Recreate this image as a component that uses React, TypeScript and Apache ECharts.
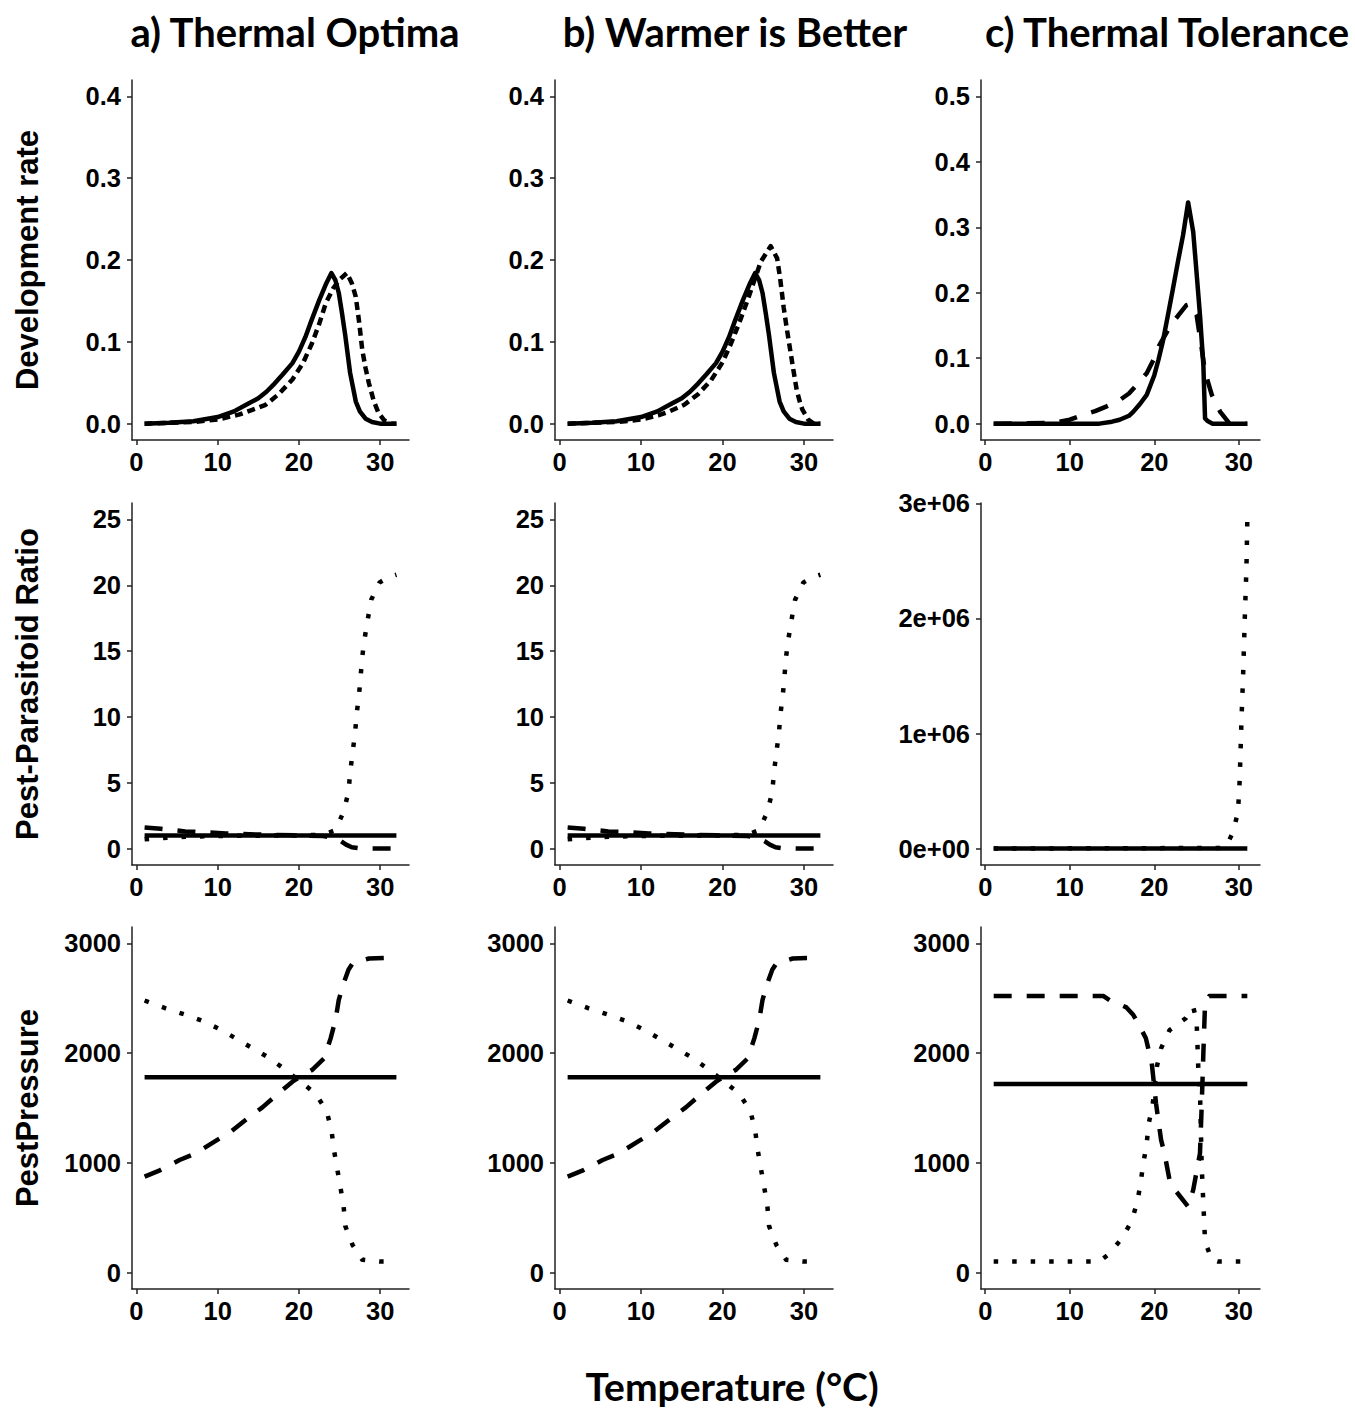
import React, { useEffect, useRef } from "react";
import * as echarts from "echarts";

// ---------- tick labels ----------
const xTicks = [0, 10, 20, 30];
const devTicksAB = [0, 0.1, 0.2, 0.3, 0.4];
const devTicksC = [0, 0.1, 0.2, 0.3, 0.4, 0.5];
const ratioTicksAB = [0, 5, 10, 15, 20, 25];
const ratioTicksC = [0, 1e6, 2e6, 3e6];
const ratioLabelsC = ["0e+00", "1e+06", "2e+06", "3e+06"];
const pressureTicks = [0, 1000, 2000, 3000];

const columnTitles = ["a) Thermal Optima", "b) Warmer is Better", "c) Thermal Tolerance"];
const rowTitles = ["Development rate", "Pest-Parasitoid Ratio", "PestPressure"];
const xTitle = "Temperature (°C)";

// ---------- Row 1: development rate ----------
const devA_solid_t = [1, 4, 7, 10, 12, 13.5, 15, 16, 17, 18, 19.2, 20, 20.8, 21.5, 22.5, 23.3, 24, 24.5, 24.9, 25.3, 25.7, 26.3, 27, 27.5, 28.2, 29, 30, 32];
const devA_solid_v = [0, 0.001, 0.003, 0.008, 0.015, 0.023, 0.031, 0.039, 0.049, 0.06, 0.074, 0.088, 0.106, 0.125, 0.151, 0.17, 0.184, 0.175, 0.16, 0.135, 0.108, 0.062, 0.027, 0.015, 0.006, 0.002, 0, 0];
const devA_dash_t = [1, 4, 7, 10, 12.6, 14, 15.9, 17.5, 19.2, 20.5, 21.6, 22.5, 23.3, 24.2, 25, 25.9, 26.5, 27, 27.4, 27.8, 28.2, 28.6, 29.2, 29.8, 30.5, 31.4, 32];
const devA_dash_v = [0, 0.001, 0.002, 0.005, 0.011, 0.016, 0.023, 0.036, 0.054, 0.074, 0.098, 0.122, 0.147, 0.165, 0.176, 0.184, 0.172, 0.155, 0.125, 0.09, 0.068, 0.05, 0.028, 0.013, 0.004, 0, 0];
const devB_dash_t = [1, 4, 7, 10, 12.1, 13.5, 15.3, 17, 18.6, 20, 21, 22, 23, 24, 24.7, 25.9, 26.7, 27.1, 27.5, 27.9, 28.3, 28.7, 29.1, 29.5, 29.8, 30.5, 31.2, 32];
const devB_dash_v = [0, 0.001, 0.002, 0.005, 0.01, 0.015, 0.023, 0.036, 0.053, 0.075, 0.097, 0.122, 0.149, 0.178, 0.198, 0.217, 0.202, 0.175, 0.142, 0.115, 0.09, 0.065, 0.041, 0.026, 0.017, 0.005, 0, 0];
const devC_solid_t = [1, 13.5, 15, 15.9, 17, 17.5, 18.3, 19.1, 20, 20.5, 21, 21.6, 22.2, 22.8, 23.4, 24, 24.6, 25, 25.4, 25.8, 26, 26.3, 26.9, 31];
const devC_solid_v = [0, 0, 0.003, 0.006, 0.012, 0.018, 0.03, 0.044, 0.074, 0.098, 0.125, 0.165, 0.206, 0.248, 0.288, 0.338, 0.293, 0.23, 0.166, 0.09, 0.008, 0.004, 0, 0];
const devC_dash_t = [1, 8, 10, 11.5, 13, 14.3, 15.9, 17, 17.9, 19.1, 20, 20.6, 21.4, 22.2, 23, 23.8, 24.3, 25, 25.6, 26, 26.8, 27.3, 27.8, 28.9, 31];
const devC_dash_v = [0, 0.001, 0.006, 0.013, 0.019, 0.026, 0.036, 0.046, 0.059, 0.077, 0.1, 0.12, 0.138, 0.155, 0.168, 0.181, 0.183, 0.166, 0.115, 0.079, 0.044, 0.03, 0.018, 0, 0];

// ---------- Row 2: pest-parasitoid ratio ----------
const ratioAB_solid_t = [1, 32];
const ratioAB_solid_v = [1, 1];
const ratioAB_dash_t = [1, 3, 6, 8, 11, 13, 16, 20, 23, 24.5, 25.2, 25.8, 26.5, 27.5, 29, 32];
const ratioAB_dash_v = [1.6, 1.5, 1.3, 1.25, 1.15, 1.1, 1.05, 1.0, 0.95, 0.8, 0.55, 0.3, 0.1, 0.02, 0, 0];
const ratioAB_dot_t = [1, 3, 6, 10, 15, 20, 23, 24.5, 25.5, 26.1, 26.3, 26.6, 26.9, 27.1, 27.4, 27.6, 27.8, 28.1, 28.5, 28.9, 29.9, 31, 32];
const ratioAB_dot_v = [0.7, 0.8, 0.9, 0.95, 0.98, 1.0, 1.05, 1.4, 2.8, 4.3, 5.7, 7.3, 8.65, 10.2, 11.7, 13.1, 14.6, 16.0, 17.5, 18.9, 20.2, 20.6, 20.8];
const ratioC_solid_t = [1, 31];
const ratioC_solid_v = [1, 1];
const ratioC_dot_t = [1, 28, 28.5, 29.3, 29.9, 30.1, 30.3, 30.5, 30.7, 30.9, 31];
const ratioC_dot_v = [0, 5000, 20000, 140000, 320000, 600000, 1100000, 1500000, 2000000, 2450000, 2860000];

// ---------- Row 3: pest pressure ----------
const pressAB_solid_t = [1, 32];
const pressAB_solid_v = [1780, 1780];
const pressAB_dash_t = [1, 2.8, 5.3, 7.3, 9.8, 11.6, 13.7, 15.5, 17.5, 19.2, 20.5, 21.6, 23.1, 23.9, 24.5, 24.9, 25.5, 26.1, 26.6, 28.6, 32];
const pressAB_dash_v = [875, 929, 1026, 1087, 1202, 1284, 1406, 1506, 1634, 1740, 1800, 1846, 1953, 2135, 2302, 2484, 2636, 2760, 2818, 2863, 2870];
const pressAB_dot_t = [1, 3.6, 5.9, 8.1, 10.2, 12.1, 14.1, 16.1, 18, 20.2, 22, 23.4, 24, 24.3, 24.7, 25.1, 25.5, 25.7, 26.6, 27.8, 30, 32];
const pressAB_dot_v = [2480, 2408, 2353, 2295, 2220, 2140, 2053, 1967, 1867, 1740, 1634, 1475, 1300, 1124, 951, 783, 607, 425, 252, 116, 100, 100];
const pressC_solid_t = [1, 31];
const pressC_solid_v = [1718, 1718];
const pressC_dash_t = [1, 14, 14.7, 16.7, 17.5, 18.3, 19, 19.7, 20.2, 20.8, 21.2, 21.8, 22.6, 24, 24.6, 25.4, 25.6, 25.8, 26, 26.5, 31];
const pressC_dash_v = [2520, 2520, 2484, 2417, 2350, 2241, 2135, 1907, 1543, 1209, 1087, 844, 738, 601, 753, 1087, 1512, 1998, 2454, 2520, 2520];
const pressC_dot_t = [1, 13.5, 14.5, 16.1, 17.3, 18, 18.4, 18.7, 19.1, 19.3, 19.8, 20.3, 20.8, 21.8, 23.7, 24.6, 25, 25.2, 25.4, 25.5, 25.6, 25.7, 25.8, 25.9, 26, 26.8, 27.5, 31];
const pressC_dot_v = [100, 100, 161, 304, 465, 647, 829, 996, 1172, 1345, 1527, 1876, 2044, 2210, 2317, 2420, 2300, 1862, 1664, 1330, 981, 799, 632, 465, 282, 116, 100, 100];

const zip = (t: number[], v: number[]) => t.map((x, i) => [x, v[i]]);

// layout (pixels)
const colLeft = [132, 555, 981];
const colWidth = [277, 278, 279];
const rowTop = [80, 503, 927];
const rowHeight = [360, 362, 362];

const FONT = "Arial, 'Liberation Sans', Helvetica, sans-serif";
const TITLE_FONT = "Lato, 'Open Sans', sans-serif";
const LW = 4.5;
const DOT = [4.5, 14];
const DASH_SHORT = [8, 5];
const DASH = [18, 15];

type S = { t: number[]; v: number[]; type: any };

interface Panel {
  xr: [number, number];
  yr: [number, number];
  yTicks: number[];
  yFmt: (v: number) => string;
  series: S[];
}

const fmt1 = (v: number) => v.toFixed(1);
const fmt0 = (v: number) => String(Math.round(v));
const fmtSci = (v: number) => ratioLabelsC[ratioTicksC.indexOf(v)] ?? "";

const xAB: [number, number] = [-0.55, 33.55];
const xC: [number, number] = [-0.5, 32.5];

const panels: Panel[] = [
  { xr: xAB, yr: [-0.02, 0.42], yTicks: devTicksAB, yFmt: fmt1, series: [
    { t: devA_dash_t, v: devA_dash_v, type: DASH_SHORT },
    { t: devA_solid_t, v: devA_solid_v, type: "solid" },
  ] },
  { xr: xAB, yr: [-0.02, 0.42], yTicks: devTicksAB, yFmt: fmt1, series: [
    { t: devB_dash_t, v: devB_dash_v, type: DASH_SHORT },
    { t: devA_solid_t, v: devA_solid_v, type: "solid" },
  ] },
  { xr: xC, yr: [-0.025, 0.525], yTicks: devTicksC, yFmt: fmt1, series: [
    { t: devC_dash_t, v: devC_dash_v, type: DASH },
    { t: devC_solid_t, v: devC_solid_v, type: "solid" },
  ] },
  { xr: xAB, yr: [-1.25, 26.25], yTicks: ratioTicksAB, yFmt: fmt0, series: [
    { t: ratioAB_dash_t, v: ratioAB_dash_v, type: DASH },
    { t: ratioAB_dot_t, v: ratioAB_dot_v, type: DOT },
    { t: ratioAB_solid_t, v: ratioAB_solid_v, type: "solid" },
  ] },
  { xr: xAB, yr: [-1.25, 26.25], yTicks: ratioTicksAB, yFmt: fmt0, series: [
    { t: ratioAB_dash_t, v: ratioAB_dash_v, type: DASH },
    { t: ratioAB_dot_t, v: ratioAB_dot_v, type: DOT },
    { t: ratioAB_solid_t, v: ratioAB_solid_v, type: "solid" },
  ] },
  { xr: xC, yr: [-143000, 3004000], yTicks: ratioTicksC, yFmt: fmtSci, series: [
    { t: ratioC_dot_t, v: ratioC_dot_v, type: DOT },
    { t: ratioC_solid_t, v: ratioC_solid_v, type: "solid" },
  ] },
  { xr: xAB, yr: [-150, 3150], yTicks: pressureTicks, yFmt: fmt0, series: [
    { t: pressAB_dash_t, v: pressAB_dash_v, type: DASH },
    { t: pressAB_dot_t, v: pressAB_dot_v, type: DOT },
    { t: pressAB_solid_t, v: pressAB_solid_v, type: "solid" },
  ] },
  { xr: xAB, yr: [-150, 3150], yTicks: pressureTicks, yFmt: fmt0, series: [
    { t: pressAB_dash_t, v: pressAB_dash_v, type: DASH },
    { t: pressAB_dot_t, v: pressAB_dot_v, type: DOT },
    { t: pressAB_solid_t, v: pressAB_solid_v, type: "solid" },
  ] },
  { xr: xC, yr: [-150, 3150], yTicks: pressureTicks, yFmt: fmt0, series: [
    { t: pressC_dash_t, v: pressC_dash_v, type: DASH },
    { t: pressC_dot_t, v: pressC_dot_v, type: DOT },
    { t: pressC_solid_t, v: pressC_solid_v, type: "solid" },
  ] },
];

const axisLineStyle = { color: "#222", width: 1.5 };
const labelStyle = { fontSize: 25.5, fontWeight: "bold" as const, color: "#000", fontFamily: FONT };

function buildOption() {
  const grid: any[] = [];
  const xAxis: any[] = [];
  const yAxis: any[] = [];
  const series: any[] = [];
  panels.forEach((p, i) => {
    const r = Math.floor(i / 3);
    const c = i % 3;
    grid.push({ left: colLeft[c], top: rowTop[r], width: colWidth[c], height: rowHeight[r], containLabel: false });
    xAxis.push({
      gridIndex: i, type: "value", min: p.xr[0], max: p.xr[1],
      axisLine: { show: true, onZero: false, lineStyle: axisLineStyle },
      axisTick: { show: true, length: 5, customValues: xTicks, lineStyle: axisLineStyle },
      axisLabel: { ...labelStyle, margin: 9, customValues: xTicks, formatter: (v: number) => String(v) },
      splitLine: { show: false },
    });
    yAxis.push({
      gridIndex: i, type: "value", min: p.yr[0], max: p.yr[1],
      axisLine: { show: true, onZero: false, lineStyle: axisLineStyle },
      axisTick: { show: true, length: 5, customValues: p.yTicks, lineStyle: axisLineStyle },
      axisLabel: { ...labelStyle, margin: 11, customValues: p.yTicks, formatter: p.yFmt },
      splitLine: { show: false },
    });
    p.series.forEach((s) => {
      series.push({
        type: "line", xAxisIndex: i, yAxisIndex: i, data: zip(s.t, s.v),
        showSymbol: false, symbol: "none", silent: true, clip: true,
        lineStyle: { color: "#000", width: LW, type: s.type, cap: "butt", join: "round" },
      });
    });
  });

  const graphic: any[] = [];
  const titleX = [295, 735, 1167];
  columnTitles.forEach((t, c) => {
    graphic.push({
      type: "text", x: titleX[c], y: 32,
      style: { text: t, font: `bold 40px ${TITLE_FONT}`, fill: "#000",
        textAlign: "center", textVerticalAlign: "middle", align: "center", verticalAlign: "middle" },
    });
  });
  rowTitles.forEach((t, r) => {
    graphic.push({
      type: "text", x: 27, y: rowTop[r] + rowHeight[r] / 2, rotation: Math.PI / 2,
      style: { text: t, font: `bold 31px ${FONT}`, fill: "#000",
        textAlign: "center", textVerticalAlign: "middle", align: "center", verticalAlign: "middle" },
    });
  });
  graphic.push({
    type: "text", x: 732, y: 1386,
    style: { text: xTitle, font: `bold 39px ${TITLE_FONT}`, fill: "#000",
      textAlign: "center", textVerticalAlign: "middle", align: "center", verticalAlign: "middle" },
  });

  return { animation: false, backgroundColor: "#fff", grid, xAxis, yAxis, series, graphic };
}

export default function App() {
  const ref = useRef<HTMLDivElement>(null);
  useEffect(() => {
    if (!ref.current) return;
    const chart = echarts.init(ref.current, null, { renderer: "svg" });
    chart.setOption(buildOption() as any);
    return () => chart.dispose();
  }, []);
  return (
    <div
      ref={ref}
      style={{ position: "absolute", left: 0, top: 0, width: 1355, height: 1409, background: "#fff" }}
    />
  );
}
